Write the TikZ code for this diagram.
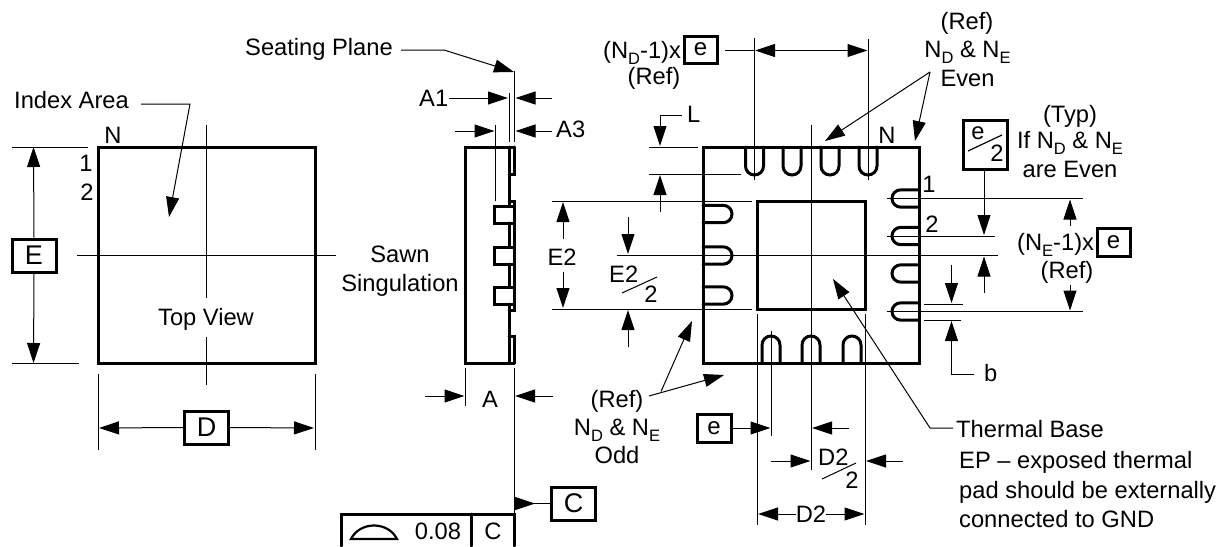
\documentclass[tikz,border=0pt]{standalone}
\usepackage{fontspec}
\setmainfont{Liberation Sans}
\usetikzlibrary{arrows.meta}
\newcommand{\sbsc}[1]{\raisebox{-6.5pt}{\fontsize{16.5}{16.5}\selectfont #1}}
\tikzset{
  thk/.style={line width=3pt,line cap=round,line join=miter,draw=black},
  thn/.style={line width=1pt,draw=black},
  dimarrow/.style={thn,-{Triangle[length=20pt,width=13pt,fill=black]}},
  dimboth/.style={thn,{Triangle[length=20pt,width=13pt,fill=black]}-{Triangle[length=20pt,width=13pt,fill=black]}},
  txt/.style={inner sep=0pt,anchor=base,font=\fontsize{23.7}{28}\selectfont,text=black},
  txtw/.style={txt,anchor=base west},
  bx/.style={thk,inner sep=0pt,font=\fontsize{24}{28}\selectfont,fill=white},
  bxl/.style={bx,font=\fontsize{27}{30}\selectfont},
}
\begin{document}
\begin{tikzpicture}[x=1pt,y=-1pt]
\useasboundingbox (0,0) rectangle (1223,546);
\fill[white] (0,0) rectangle (1223,546);

% ---------- Top view
\draw[thk] (98,147) rectangle (315,363);
\draw[thn] (206,125) -- (206,298);
\draw[thn] (206,337) -- (206,385);
\draw[thn] (77,255) -- (336,255);
\draw[thn] (12,147) -- (88,147);
\draw[thn] (12,363) -- (79,363);
\node[bxl,draw,minimum width=44pt,minimum height=33pt] (boxE) at (34,255.5) {E};
\coordinate (Etop) at (33.5,147);
\coordinate (Ebot) at (33.5,363);
\draw[dimarrow] (boxE.north) -- (Etop);
\draw[dimarrow] (boxE.south) -- (Ebot);
\draw[thn] (98,374) -- (98,450);
\draw[thn] (315,374) -- (315,450);
\node[bxl,draw,minimum width=44pt,minimum height=33pt] (boxD) at (206.5,427.5) {D};
\coordinate (Dl) at (99,428);
\coordinate (Dr) at (314,428);
\draw[dimarrow] (boxD.west) -- (Dl);
\draw[dimarrow] (boxD.east) -- (Dr);
\node[txtw] (index) at (14,108) {Index Area};
\coordinate (indextip) at (169,217);
\draw[dimarrow] (141,104) -- (190,104) -- (indextip);
\node[txt] (nTop) at (113,143) {N};
\node[txt] (oneTop) at (86,171) {1};
\node[txt] (twoTop) at (87,200) {2};
\node[txt] (topview) at (206,325) {Top View};

% ---------- Side view
\draw[thk] (514.5,147) -- (465,147) -- (465,363) -- (514.5,363);
\draw[thk] (514.5,147) -- (514.5,174) -- (509,174);
\draw[thk] (509,147) -- (509,206);
\draw[thk] (509,223) -- (509,247);
\draw[thk] (509,264) -- (509,287);
\draw[thk] (509,304) -- (509,363);
\draw[thk] (509,201) -- (514.5,201) -- (514.5,310) -- (509,310);
\draw[thk] (509,336) -- (514.5,336) -- (514.5,363);
\foreach \ya/\yb in {206/223,247/264,287/304}
  \draw[thk] (514,\ya) -- (494,\ya) -- (494,\yb) -- (514,\yb);
\draw[thn] (514.5,71) -- (514.5,142);
\draw[thn] (509,93) -- (509,142);
\draw[thn] (495,125) -- (495,201);
\node[txtw] (seating) at (245,55) {Seating Plane};
\coordinate (seattip) at (514,72);
\draw[dimarrow] (401,50) -- (444,50) -- (seattip);
\node[txtw] (aone) at (419,106) {A1};
\draw[dimarrow] (449,98) -- (508,98);
\draw[dimarrow] (552,98) -- (515.5,98);
\node[txtw] (athree) at (556,137) {A3};
\draw[dimarrow] (455,131) -- (494.5,131);
\draw[dimarrow] (552,131) -- (515.5,131);
\node[txt] (sawn) at (400,262) {Sawn};
\node[txt] (sing) at (400,291) {Singulation};
\draw[thn] (465,368) -- (465,406);
\draw[thn] (514.5,368) -- (514.5,514);
\draw[dimarrow] (425,396) -- (464.5,396);
\draw[dimarrow] (553,396) -- (515,396);
\node[txt] (aaa) at (490,407) {A};
\node[bxl,draw,minimum width=44pt,minimum height=33pt] (boxC) at (573.5,503.5) {C};
\coordinate (Ctip) at (514.5,503.5);
\draw[thn] (boxC.west) -- (Ctip);
\fill[black] (514,496.5) -- (535,503.5) -- (514,510.5) -- cycle;
\draw[thk] (341,546) -- (341,514) -- (514,514) -- (514,546);
\draw[thk] (471,514) -- (471,546);
\draw[line width=2.2pt] (351,539) .. controls (360,521) and (388,521) .. (397,539) -- cycle;
\node[txt] (fcf) at (438,539) {0.08};
\node[txt] (fcfc) at (493,539) {C};

% ---------- Bottom view
\draw[thk] (703,147) rectangle (919,363);
\draw[thk] (757,201) rectangle (865,309);
\foreach \c in {754.5,792,830,868}
  \draw[thk] ({\c-9},147) -- ({\c-9},166) .. controls ({\c-9},171) and ({\c-5},175) .. (\c,175) .. controls ({\c+5},175) and ({\c+9},171) .. ({\c+9},166) -- ({\c+9},147);
\foreach \c in {771,811,852}
  \draw[thk] ({\c-9},363) -- ({\c-9},345) .. controls ({\c-9},340) and ({\c-5},336) .. (\c,336) .. controls ({\c+5},336) and ({\c+9},340) .. ({\c+9},345) -- ({\c+9},363);
\foreach \c in {214,255.5,295.5}
  \draw[thk] (703,{\c-8.7}) -- (723,{\c-8.7}) .. controls (728,{\c-8.7}) and (732,{\c-5}) .. (732,\c) .. controls (732,{\c+5}) and (728,{\c+8.7}) .. (723,{\c+8.7}) -- (703,{\c+8.7});
\foreach \c in {198.5,236,273.5,311.5}
  \draw[thk] (919,{\c-8.7}) -- (901,{\c-8.7}) .. controls (896,{\c-8.7}) and (892,{\c-5}) .. (892,\c) .. controls (892,{\c+5}) and (896,{\c+8.7}) .. (901,{\c+8.7}) -- (919,{\c+8.7});
\draw[thn] (811,125) -- (811,470);
\draw[thn] (617,255) -- (998,255);
% top dimension
\draw[thn] (754.5,38) -- (754.5,180);
\draw[thn] (868,39) -- (868,180);
\node[txtw] (ndx) at (603,58) {(N\sbsc{D}-1)x};
\node[bx,draw,minimum width=33pt,minimum height=27pt] (boxe1) at (700.5,49.5) {e};
\node[txt] (ref1) at (654,84) {(Ref)};
\coordinate (d1l) at (755,50.5);
\coordinate (d1r) at (867.5,50.5);
\draw[thn] (725,50.5) -- (d1l);
\draw[dimboth] (d1l) -- (d1r);
% L
\node[txtw] (ell) at (687,122) {L};
\draw[dimarrow] (682,115) -- (660,115) -- (660,146);
\draw[thn] (649,147) -- (698,147);
\draw[thn] (649,174) -- (741,174);
\draw[dimarrow] (660,212) -- (660,175);
% E2
\draw[thn] (552,201) -- (752,201);
\draw[thn] (552,309) -- (752,309);
\node[txt] (etwo) at (562,265) {E2};
\coordinate (etwotop) at (563,202);
\coordinate (etwobot) at (563,308);
\draw[dimarrow] (563,239) -- (etwotop);
\draw[dimarrow] (563,272) -- (etwobot);
\draw[dimarrow] (628,217) -- (628,254);
\draw[dimarrow] (628,347) -- (628,310);
\node[txtw] (etwob) at (609,282) {E2};
\draw[thn] (622,293) -- (657,277);
\node[txt] (etwoc) at (651,302) {2};
% Ref Even
\node[txt] (ref2) at (967,29) {(Ref)};
\node[txt] (nde) at (967.5,57) {N\sbsc{D} \& N\sbsc{E}};
\node[txt] (even) at (967.5,86) {Even};
\coordinate (junctop) at (930,72);
\coordinate (tipa) at (825,141);
\coordinate (tipb) at (915,141);
\draw[dimarrow] (junctop) -- (tipa);
\draw[dimarrow] (junctop) -- (tipb);
\node[txt] (nRight) at (887,143) {N};
\node[txt] (oneR) at (929,192) {1};
\node[txt] (twoR) at (932,232) {2};
% right dimensions
\draw[thn] (887,198.5) -- (1083,198.5);
\draw[thn] (887,236) -- (995,236);
\draw[thn] (887,311.5) -- (1083,311.5);
\node[bx,draw,minimum width=44pt,minimum height=49pt] (boxe2) at (985,144.5) {};
\node[txt] (ee) at (978,139) {e};
\draw[thn,line width=1.2pt] (968,151) -- (1002,135);
\node[txt] (ee2) at (997,161) {2};
\coordinate (e2tip) at (984,235);
\draw[dimarrow] (boxe2.south -| e2tip) -- (e2tip);
\draw[dimarrow] (984,293) -- (984,256.5);
\draw[dimarrow] (1070,226) -- (1070,199.5);
\draw[dimarrow] (1070,285) -- (1070,310.5);
\node[txt] (typ) at (1070,122) {(Typ)};
\node[txt] (ifn) at (1070,148) {If N\sbsc{D} \& N\sbsc{E}};
\node[txt] (are) at (1070,177) {are Even};
\node[txtw] (nex) at (1017,250) {(N\sbsc{E}-1)x};
\node[bx,draw,minimum width=33pt,minimum height=28pt] (boxe3) at (1113.5,242) {e};
\node[txt] (ref3) at (1067,278) {(Ref)};
% b
\draw[thn] (924,304) -- (963,304);
\draw[thn] (924,320) -- (961,320);
\draw[dimarrow] (951.5,265) -- (951.5,303);
\draw[dimarrow] (974,374) -- (951.5,374) -- (951.5,321);
\node[txtw] (bb) at (984,381) {b};
% Ref Odd
\node[txt] (ref4) at (617,407) {(Ref)};
\node[txt] (nde2) at (617,435) {N\sbsc{D} \& N\sbsc{E}};
\node[txt] (odd) at (617,463) {Odd};
\coordinate (junc) at (661,391.5);
\coordinate (tipc) at (692,321);
\coordinate (tipd) at (724,375);
\draw[dimarrow] (649,396) -- (tipd);
\draw[dimarrow] (junc) -- (tipc);
% bottom dimensions
\draw[thn] (757,314) -- (757,525);
\draw[thn] (865,314) -- (865,525);
\draw[thn] (771,331) -- (771,436);
\node[bx,draw,minimum width=34pt,minimum height=28pt] (boxe4) at (714,428) {e};
\coordinate (e4tip) at (770.5,428);
\draw[dimarrow] (boxe4.east) -- (e4tip);
\draw[dimarrow] (849,428) -- (812,428);
\draw[dimarrow] (771,461) -- (810.5,461);
\draw[dimarrow] (903,461) -- (866,461);
\node[txtw] (dtwoa) at (818,465) {D2};
\draw[thn] (822,479) -- (856,463);
\node[txt] (dtwob) at (852,488) {2};
\node[txt] (dtwo) at (811,522) {D2};
\draw[dimarrow] (dtwo.west |- 0,514) -- (758,514);
\draw[dimarrow] (dtwo.east |- 0,514) -- (864.5,514);
% thermal
\node[txtw] (thermal) at (956,437) {Thermal Base};
\node[txtw] (ep) at (959,468) {EP – exposed thermal};
\node[txtw] (pad) at (959,498) {pad should be externally};
\node[txtw] (con) at (959,527) {connected to GND};
\coordinate (thtip) at (833,279);
\draw[dimarrow] (953,428) -- (930,428) -- (thtip);
\end{tikzpicture}
\end{document}
